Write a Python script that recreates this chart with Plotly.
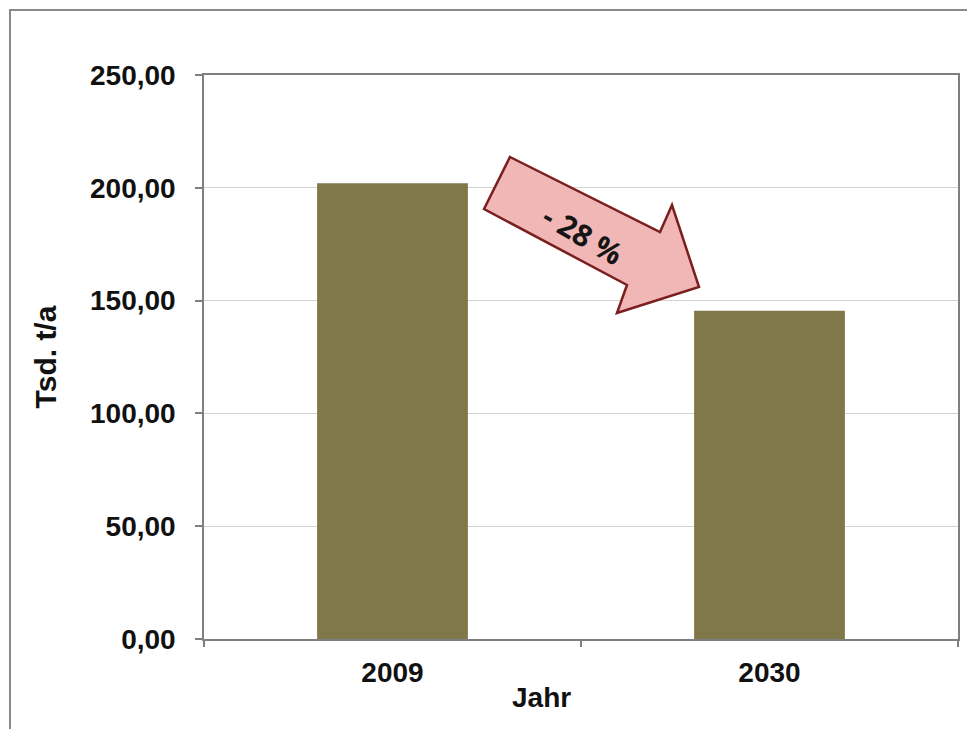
import plotly.graph_objects as go

# Data
years = ["2009", "2030"]
tonnes = [202.0, 145.5]          # Tsd. t/a
change_label = "- 28 %"

BAR_COLOR = "#807849"
AXIS_FONT = dict(family="Liberation Sans, Arial, sans-serif", size=28, color="#111111", weight="bold")
TITLE_FONT = dict(AXIS_FONT, size=30)

fig = go.Figure(
    go.Bar(
        x=years,
        y=tonnes,
        marker=dict(color=BAR_COLOR, line=dict(width=0)),
        hoverinfo="skip",
    )
)

fig.update_layout(
    width=967,
    height=729,
    margin=dict(l=204, r=9, t=75, b=90),
    paper_bgcolor="white",
    plot_bgcolor="white",
    bargap=0.6,
    separators=",.",
    showlegend=False,
    font=AXIS_FONT,
)

fig.update_yaxes(
    range=[0, 250],
    dtick=50,
    tickformat=".2f",
    ticks="outside",
    ticklen=7,
    tickcolor="#7f7f7f",
    tickwidth=1.5,
    ticklabelstandoff=14,
    showline=True,
    linecolor="#7f7f7f",
    linewidth=1.5,
    mirror=True,
    showgrid=True,
    gridcolor="#d2d2d2",
    gridwidth=1,
    zeroline=False,
    tickfont=AXIS_FONT,
    title=dict(text="Tsd. t/a", font=TITLE_FONT, standoff=25),
    automargin=False,
)

fig.update_xaxes(
    type="category",
    ticks="outside",
    tickson="boundaries",
    ticklen=6,
    tickcolor="#7f7f7f",
    tickwidth=1.5,
    ticklabelstandoff=8,
    showline=True,
    linecolor="#7f7f7f",
    linewidth=1.5,
    mirror=True,
    showgrid=False,
    tickfont=AXIS_FONT,
    automargin=False,
)

# x-axis title, set slightly left of centre
fig.add_annotation(
    text="Jahr", xref="paper", yref="paper", x=0.448, y=-0.103,
    showarrow=False, font=AXIS_FONT, xanchor="center", yanchor="middle",
)

# Block arrow showing the decrease (outline in plot-area fractions)
arrow_pts = [
    (0.4058, 0.8546), (0.6048, 0.7216), (0.6207, 0.7695), (0.6565, 0.6241),
    (0.5477, 0.5780), (0.5610, 0.6277), (0.3714, 0.7624),
]
path = "M " + " L ".join(f"{x},{y}" for x, y in arrow_pts) + " Z"
fig.add_shape(
    type="path", path=path, xref="paper", yref="paper",
    fillcolor="#f1b6b6", line=dict(color="#7a1e1e", width=2.5), layer="above",
)
fig.add_annotation(
    text=change_label, xref="paper", yref="paper", x=0.5027, y=0.718,
    xanchor="center", yanchor="middle",
    showarrow=False, textangle=30,
    font=dict(family="Open Sans, sans-serif", size=30, color="#151515", weight="bold"),
)

# Outer frame around the chart
fig.add_shape(
    type="rect", xref="paper", yref="paper",
    x0=-0.2573, y0=-0.2, x1=1.03, y1=1.1152,
    line=dict(color="#8a8a8a", width=2), fillcolor="rgba(0,0,0,0)", layer="below",
)

fig.write_html("out.html")
